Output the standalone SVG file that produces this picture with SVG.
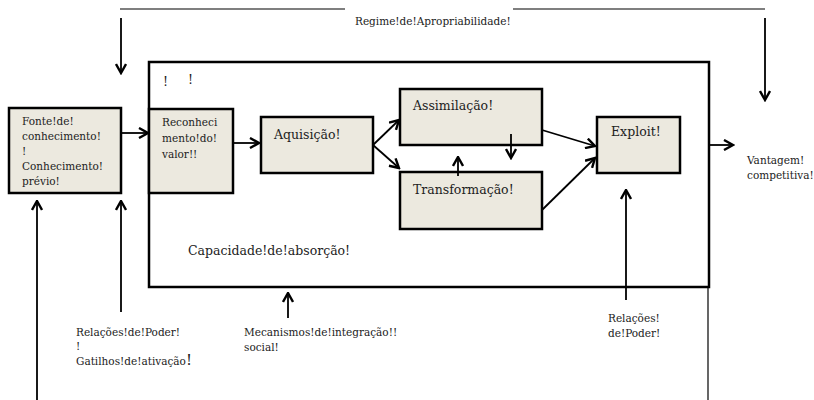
<svg xmlns="http://www.w3.org/2000/svg" width="814" height="400" viewBox="0 0 814 400">
<defs>
<marker id="ah" viewBox="0 0 12 12" refX="10.5" refY="6" markerWidth="12" markerHeight="12" markerUnits="userSpaceOnUse" orient="auto">
<path d="M1.5,1 L10.5,6 L1.5,11" fill="none" stroke="#000" stroke-width="2.4"/>
</marker>
</defs>
<style>
.box{fill:#ece9df;stroke:#000;stroke-width:2.5}
.t{font-family:"DejaVu Serif","Liberation Serif",serif;font-size:12.5px;fill:#222}
.s{font-family:"DejaVu Serif","Liberation Serif",serif;font-size:10.5px;fill:#222}
.c{stroke:#000;stroke-width:1.8;fill:none;marker-end:url(#ah)}
.l{stroke:#000;stroke-width:1.2;fill:none}
</style>
<rect width="814" height="400" fill="#fff"/>
<g id="frame">
<rect x="149" y="62" width="560" height="225" fill="none" stroke="#000" stroke-width="2.5"/>
<text class="t" x="163" y="86">!</text>
<text class="t" x="188" y="84">!</text>
<text class="t" x="188" y="255">Capacidade!de!absorção!</text>
</g>
<g id="fonte">
<rect class="box" x="9" y="108" width="112" height="85"/>
<text class="s" x="22" y="125">Fonte!de!</text>
<text class="s" x="22" y="140">conhecimento!</text>
<text class="s" x="22" y="155">!</text>
<text class="s" x="22" y="170">Conhecimento!</text>
<text class="s" x="22" y="185">prévio!</text>
</g>
<g id="reconhecimento">
<rect class="box" x="149" y="109" width="84" height="84"/>
<text class="s" x="162" y="126">Reconheci</text>
<text class="s" x="162" y="142">mento!do!</text>
<text class="s" x="162" y="158">valor!!</text>
</g>
<g id="aquisicao">
<rect class="box" x="261" y="117" width="112" height="56"/>
<text class="t" x="274" y="139">Aquisição!</text>
</g>
<g id="assimilacao">
<rect class="box" x="400" y="89" width="142" height="56"/>
<text class="t" x="413" y="110">Assimilação!</text>
</g>
<g id="transformacao">
<rect class="box" x="400" y="172" width="142" height="57"/>
<text class="t" x="413" y="194">Transformação!</text>
</g>
<g id="exploit">
<rect class="box" x="597" y="117" width="83" height="56"/>
<text class="t" x="611" y="136">Exploit!</text>
</g>
<g id="labels">
<text class="s" x="355" y="25">Regime!de!Apropriabilidade!</text>
<text class="s" x="747" y="164">Vantagem!</text>
<text class="s" x="747" y="179">competitiva!</text>
<text class="s" x="76" y="336">Relações!de!Poder!</text>
<text class="s" x="76" y="350">!</text>
<text class="s" x="76" y="365">Gatilhos!de!ativação<tspan font-size="15">!</tspan></text>
<text class="s" x="244" y="336">Mecanismos!de!integração!!</text>
<text class="s" x="244" y="351">social!</text>
<text class="s" x="608" y="322">Relações!</text>
<text class="s" x="608" y="337">de!Poder!</text>
</g>
<g id="connectors">
<line class="l" x1="120" y1="9" x2="345" y2="9" stroke="#777"/>
<line class="l" x1="513" y1="9" x2="765" y2="9" stroke="#777"/>
<line class="c" x1="121" y1="18" x2="121" y2="73"/>
<line class="c" x1="765" y1="18" x2="765" y2="100"/>
<line class="c" x1="121" y1="133" x2="148" y2="133"/>
<line class="c" x1="233" y1="143" x2="259" y2="143"/>
<line class="c" x1="373" y1="145" x2="399" y2="120"/>
<line class="c" x1="373" y1="145" x2="399" y2="168"/>
<line class="c" x1="511" y1="134" x2="511" y2="158"/>
<line class="c" x1="458" y1="176" x2="458" y2="157"/>
<line class="c" x1="542" y1="130" x2="595" y2="146"/>
<line class="c" x1="542" y1="210" x2="595" y2="158"/>
<line class="c" x1="709" y1="145" x2="733" y2="145"/>
<line class="c" x1="626" y1="300" x2="626" y2="190"/>
<line class="l" x1="708" y1="287" x2="708" y2="400"/>
<line class="c" x1="37" y1="400" x2="37" y2="201"/>
<line class="c" x1="121" y1="312" x2="121" y2="201"/>
<line class="c" x1="288" y1="318" x2="288" y2="293"/>
</g>
</svg>
